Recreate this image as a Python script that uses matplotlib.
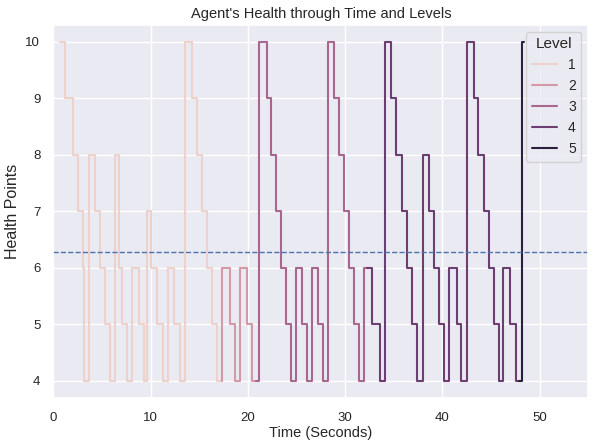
import matplotlib
matplotlib.use("Agg")
import matplotlib.pyplot as plt
from matplotlib.colors import Normalize
import seaborn as sns

# health points per level, value holds from its time until the next time
level1_t = [0.68, 1.23, 2.05, 2.56, 3.01, 3.18, 3.62, 4.28, 4.79, 5.30, 5.82, 6.33,
            6.74, 7.05, 7.60, 8.11, 8.80, 9.28, 9.62, 10.03, 10.61, 11.23, 11.78,
            12.43, 13.01, 13.53, 14.28, 14.79, 15.31, 15.75, 16.27, 16.78, 17.29]
level1_h = [10, 9, 8, 7, 6, 4, 8, 7, 6, 5, 4, 8,
            6, 5, 4, 6, 5, 4, 7, 6, 5, 4, 6,
            5, 4, 10, 9, 8, 7, 6, 5, 4, 4]

level2_t = [17.29, 17.36, 18.15, 18.66, 19.18, 19.93, 20.44, 20.87]
level2_h = [4, 6, 5, 4, 6, 5, 4, 4]

level3_t = [20.87, 21.16, 21.92, 22.39, 22.88, 23.39, 23.91, 24.39, 24.90, 25.55,
            26.03, 26.58, 27.23, 27.74, 28.25, 28.84, 29.35, 29.84, 30.38, 30.86,
            31.38, 31.92, 32.20]
level3_h = [4, 10, 9, 8, 7, 6, 5, 4, 6, 5,
            4, 6, 5, 4, 10, 9, 8, 7, 6, 5,
            4, 6, 6]

level4_t = [32.20, 32.71, 33.57, 34.08, 34.67, 35.18, 35.86, 36.34, 36.85, 37.40,
            37.95, 38.60, 39.09, 39.63, 40.14, 40.69, 41.45, 41.92, 42.48, 43.20,
            43.67, 44.25, 44.74, 45.25, 45.77, 46.24, 46.96, 47.54, 47.85]
level4_h = [6, 5, 4, 10, 9, 8, 7, 6, 5, 4,
            8, 7, 6, 5, 4, 6, 5, 4, 10, 9,
            8, 7, 6, 5, 4, 6, 5, 4, 4]

level5_t = [47.85, 48.19, 48.40]
level5_h = [4, 10, 10]

levels = [1, 2, 3, 4, 5]
times = [level1_t, level2_t, level3_t, level4_t, level5_t]
healths = [level1_h, level2_h, level3_h, level4_h, level5_h]

mean_health = 6.28

sns.set_theme(style="darkgrid")
plt.rcParams['font.family'] = ['Liberation Sans', 'DejaVu Sans']

cmap = sns.color_palette("ch:", as_cmap=True)
norm = Normalize(min(levels), max(levels))

fig, ax = plt.subplots(figsize=(6.01, 4.44), dpi=100)
fig.subplots_adjust(left=0.089, right=0.979, top=0.944, bottom=0.104)

for lvl, t, h in zip(levels, times, healths):
    ax.plot(t, h, drawstyle="steps-post", color=cmap(norm(lvl)), lw=1.5, label=str(lvl))

ax.axhline(mean_health, color="#4c72b0", ls="--", lw=1)

ax.set_xlim(0, 55)
ax.set_xticks([0, 10, 20, 30, 40, 50])
ax.tick_params(labelsize=9.5)
ax.tick_params(axis="x", pad=4)
ax.set_title("Agent's Health through Time and Levels", fontsize=10.5, pad=5)
ax.set_xlabel("Time (Seconds)", fontsize=10.5, labelpad=2)
ax.set_ylabel("Health Points", fontsize=11.5)
ax.legend(title="Level", loc="upper right", fontsize=10, title_fontsize=11,
          handlelength=1.8)

plt.savefig("out.png", dpi=100)
